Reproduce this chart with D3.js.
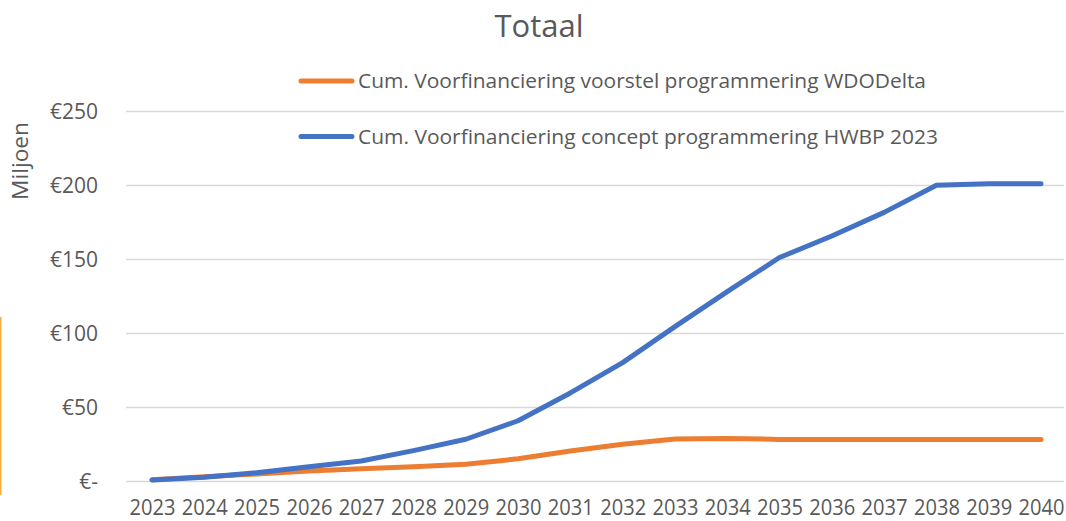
<!DOCTYPE html>
<html>
<head>
<meta charset="utf-8">
<script src="https://cdn.jsdelivr.net/npm/d3@7"></script>
<style>
  body { margin: 0; background: #fff; }
  text { font-family: "Open Sans", sans-serif; fill: #595959; }
</style>
</head>
<body>
<div id="chart"></div>
<script>
var years = ["2023", "2024", "2025", "2026", "2027", "2028", "2029", "2030", "2031",
             "2032", "2033", "2034", "2035", "2036", "2037", "2038", "2039", "2040"];
var wdoDelta = [0.8, 2.8, 4.7, 6.8, 8.3, 9.7, 11.3, 15, 20.3,
                24.8, 28.4, 28.8, 28.1, 28.1, 28.1, 28, 28, 28];
var hwbp = [0.7, 2.5, 5.6, 9.7, 13.5, 20.5, 28.2, 40.7, 59.5,
            80, 104.3, 128, 151, 165.5, 181.5, 199.8, 200.9, 200.9];
var yTicks = [0, 50, 100, 150, 200, 250];
var yTickLabels = ["€-", "€50", "€100", "€150", "€200", "€250"];
var seriesNames = ["Cum. Voorfinanciering voorstel programmering WDODelta",
                   "Cum. Voorfinanciering concept programmering HWBP 2023"];
var seriesColors = ["#ED7D31", "#4472C4"];

function lineChart() {
    var w = 1066;
    var h = 521;

    var svg = d3.select("#chart")
            .append("svg")
            .attr("width", w)
            .attr("height", h);

    var x = d3.scalePoint()
            .domain(years)
            .range([152, 1041]);

    var y = d3.scaleLinear()
            .domain([0, 250])
            .range([481, 111]);

    // stray orange border on the left
    svg.append("rect")
        .attr("x", 0)
        .attr("y", 317)
        .attr("width", 1.5)
        .attr("height", 178)
        .attr("fill", "#F5B041");

    // gridlines
    svg.append("g")
        .selectAll("line")
        .data(yTicks)
        .enter()
        .append("line")
        .attr("x1", 126)
        .attr("x2", 1064)
        .attr("y1", function(d) { return Math.round(y(d)) + 0.5; })
        .attr("y2", function(d) { return Math.round(y(d)) + 0.5; })
        .attr("stroke", "#D9D9D9")
        .attr("stroke-width", 1.3);

    // y axis labels
    var yAxis = d3.axisLeft(y)
            .tickValues(yTicks)
            .tickFormat(function(d, i) { return yTickLabels[i]; })
            .tickSize(0)
            .tickPadding(0);
    var gy = svg.append("g")
            .attr("transform", "translate(98,0)")
            .call(yAxis);
    gy.select(".domain").remove();
    gy.selectAll("text")
        .attr("dy", "0.35em")
        .style("font-family", "'Open Sans', sans-serif")
        .style("font-size", "21px")
        .attr("fill", "#595959");

    // x axis labels
    var xAxis = d3.axisBottom(x)
            .tickSize(0)
            .tickPadding(0);
    var gx = svg.append("g")
            .attr("transform", "translate(0,500)")
            .call(xAxis);
    gx.select(".domain").remove();
    gx.selectAll("text")
        .attr("dy", "0.71em")
        .attr("textLength", 46)
        .attr("lengthAdjust", "spacingAndGlyphs")
        .style("font-family", "'Open Sans', sans-serif")
        .style("font-size", "21px")
        .attr("fill", "#595959");

    // lines
    var line = d3.line()
            .x(function(d, i) { return x(years[i]); })
            .y(function(d) { return y(d); });

    [wdoDelta, hwbp].forEach(function(s, k) {
        svg.append("path")
            .datum(s)
            .attr("d", line)
            .attr("fill", "none")
            .attr("stroke", seriesColors[k])
            .attr("stroke-width", 5)
            .attr("stroke-linecap", "round")
            .attr("stroke-linejoin", "round");
    });

    // title
    svg.append("text")
        .attr("x", 539)
        .attr("y", 37)
        .attr("text-anchor", "middle")
        .style("font-size", "31px")
        .text("Totaal");

    // y axis title
    svg.append("text")
        .attr("transform", "translate(28,161) rotate(-90)")
        .attr("text-anchor", "middle")
        .attr("textLength", 78)
        .attr("lengthAdjust", "spacingAndGlyphs")
        .style("font-size", "21px")
        .text("Miljoen");

    // legend
    var legend = svg.append("g")
            .selectAll("g")
            .data(seriesNames)
            .enter()
            .append("g")
            .attr("transform", function(d, i) { return "translate(0," + (81 + i * 55.5) + ")"; });
    legend.append("line")
        .attr("x1", 301)
        .attr("x2", 352)
        .attr("stroke", function(d, i) { return seriesColors[i]; })
        .attr("stroke-width", 5)
        .attr("stroke-linecap", "round");
    legend.append("text")
        .attr("x", 358)
        .attr("y", 7)
        .attr("textLength", function(d, i) { return i == 0 ? 568 : 580; })
        .attr("lengthAdjust", "spacingAndGlyphs")
        .style("font-size", "20px")
        .text(function(d) { return d; });
}

window.onload = lineChart;
</script>
</body>
</html>
